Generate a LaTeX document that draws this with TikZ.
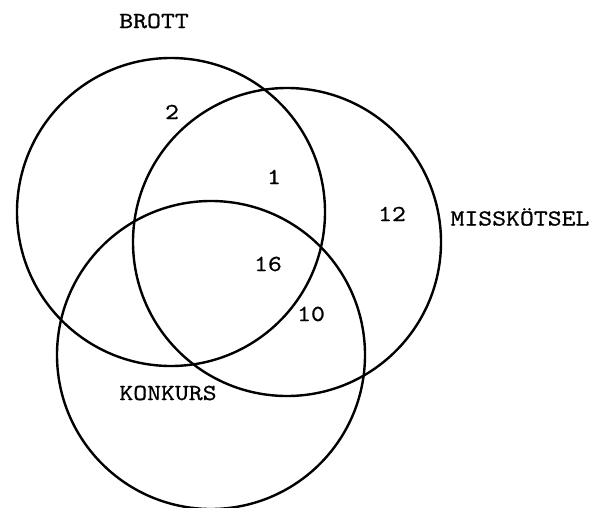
\documentclass[tikz,border=0pt]{standalone}
\usepackage{fontspec}
\setmonofont{lmmono10-regular}[Extension=.otf, FakeStretch=1.15, FakeBold=0.8]
\usetikzlibrary{positioning}

\begin{document}
\begin{tikzpicture}[
  x=1pt, y=-1pt,
  every node/.style={font=\ttfamily\fontsize{23}{27}\selectfont},
  ring/.style={draw, circle, line width=2.4pt, minimum size=308pt,
               inner sep=0pt, outer sep=0pt},
  count/.style={inner sep=1pt}
]
\useasboundingbox (0,0) rectangle (602,508);

% Circles
\node[ring] (brottring)   at (171,212) {};
\node[ring] (misskring)   at (287,242) {};
\node[ring] (konkursring) at (211,355) {};

% Set names
\node (brott)   at (154,21)  {BROTT};
\node[anchor=west] (missk) at (447,217) {MISSKÖTSEL};
\node (konkurs) at (168,393) {KONKURS};

% Counts
\node[count] (n2)  at (172,112) {2};
\node[count] (n1)  at (274,177) {1};
\node[count] (n12) at (392,214) {12};
\node[count] (n16) at (268,264) {16};
\node[count] (n10) at (311,314) {10};

\end{tikzpicture}
\end{document}
